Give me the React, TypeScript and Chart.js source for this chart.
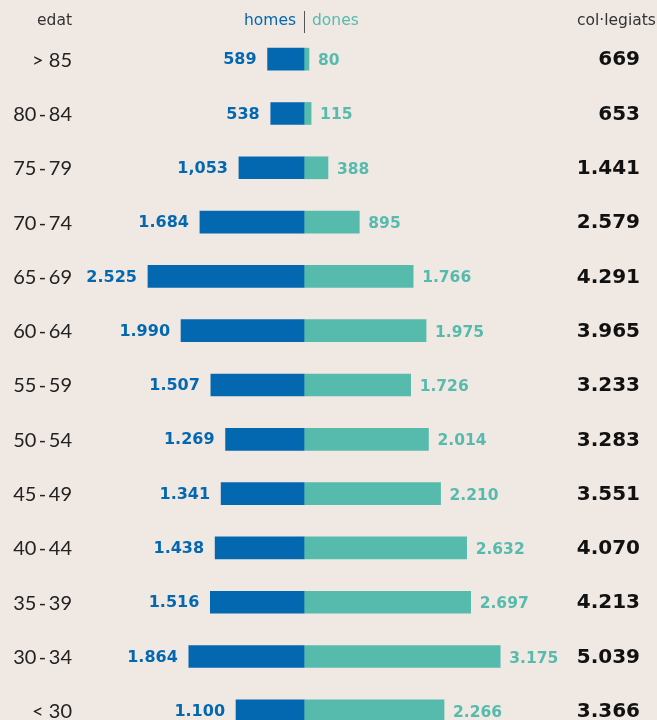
import React, { useEffect, useRef } from "react";
import { Chart, registerables } from "chart.js";

Chart.register(...registerables);

const ages = ["> 85", "80-84", "75-79", "70-74", "65-69", "60-64", "55-59", "50-54", "45-49", "40-44", "35-39", "30-34", "< 30"];
const homes = [589, 538, 1053, 1684, 2525, 1990, 1507, 1269, 1341, 1438, 1516, 1864, 1100];
const dones = [80, 115, 388, 895, 1766, 1975, 1726, 2014, 2210, 2632, 2697, 3175, 2266];
const totals = [669, 653, 1441, 2579, 4291, 3965, 3233, 3283, 3551, 4070, 4213, 5039, 3366];
const homesLabels = ["589", "538", "1,053", "1.684", "2.525", "1.990", "1.507", "1.269", "1.341", "1.438", "1.516", "1.864", "1.100"];
const donesLabels = ["80", "115", "388", "895", "1.766", "1.975", "1.726", "2.014", "2.210", "2.632", "2.697", "3.175", "2.266"];
const totalLabels = ["669", "653", "1.441", "2.579", "4.291", "3.965", "3.233", "3.283", "3.551", "4.070", "4.213", "5.039", "3.366"];

const BLUE = "#0468b1";
const TEAL = "#56bbad";
const BG = "#f0e8e3";
const DARK = "#222222";

export default function App() {
  const ref = useRef<HTMLCanvasElement | null>(null);

  useEffect(() => {
    document.body.style.margin = "0";
    document.body.style.background = BG;
    document.documentElement.style.overflow = "hidden";
    const canvas = ref.current;
    if (!canvas) return;

    const labelPlugin = {
      id: "labels",
      afterDatasetsDraw(chart: any) {
        const ctx = chart.ctx;
        const xs = chart.scales.x;
        const ys = chart.scales.y;
        ctx.save();
        ctx.textBaseline = "middle";
        // headers
        ctx.font = '15.5px "DejaVu Sans"';
        ctx.fillStyle = "#333";
        ctx.textAlign = "right";
        ctx.fillText("edat", 72, 21);
        const cx = Math.round(xs.getPixelForValue(0));
        ctx.fillStyle = BLUE;
        ctx.fillText("homes", cx - 8, 21);
        ctx.fillStyle = TEAL;
        ctx.textAlign = "left";
        ctx.fillText("dones", cx + 8, 21);
        ctx.fillStyle = "#333";
        ctx.fillText("col\u00b7legiats", 577, 21);
        ctx.strokeStyle = "#555";
        ctx.lineWidth = 1;
        ctx.beginPath();
        ctx.moveTo(cx + 0.5, 11);
        ctx.lineTo(cx + 0.5, 33);
        ctx.stroke();

        for (let i = 0; i < ages.length; i++) {
          const y = ys.getPixelForValue(i);
          ctx.font = '20px "Lato"';
          ctx.fillStyle = DARK;
          ctx.textAlign = "right";
          ctx.fillText(ages[i].replace("-", "\u2009-\u2009"), 72, y + 1);

          const lx = xs.getPixelForValue(-homes[i]);
          ctx.font = 'bold 16px "DejaVu Sans"';
          ctx.fillStyle = BLUE;
          ctx.textAlign = "right";
          ctx.fillText(homesLabels[i], lx - 11, y + 1);

          const rx = xs.getPixelForValue(dones[i]);
          ctx.font = 'bold 15.5px "DejaVu Sans"';
          ctx.fillStyle = TEAL;
          ctx.textAlign = "left";
          ctx.fillText(donesLabels[i], rx + 9, y + 2);

          ctx.font = 'bold 20px "DejaVu Sans"';
          ctx.fillStyle = "#111";
          ctx.textAlign = "right";
          ctx.fillText(totalLabels[i], 640, y + 1);
        }
        ctx.restore();
      },
    };

    const chart = new Chart(canvas, {
      type: "bar",
      data: {
        labels: ages,
        datasets: [
          {
            label: "homes",
            data: homes.map((v) => -v),
            backgroundColor: BLUE,
            barThickness: 22,
            borderWidth: 0,
          },
          {
            label: "dones",
            data: dones,
            backgroundColor: TEAL,
            barThickness: 22,
            borderWidth: 0,
          },
        ],
      },
      options: {
        indexAxis: "y",
        responsive: false,
        animation: false,
        events: [],
        layout: { padding: { top: 32, bottom: 2, left: 0, right: 0 } },
        plugins: { legend: { display: false }, tooltip: { enabled: false } },
        scales: {
          x: { stacked: true, display: false, min: -4919, max: 5712 },
          y: { stacked: true, display: false },
        },
      },
      plugins: [labelPlugin],
    } as any);

    return () => chart.destroy();
  }, []);

  return (
    <div style={{ width: 657, height: 720, overflow: "hidden", background: BG }}>
      <canvas ref={ref} width={657} height={740} style={{ display: "block" }} />
    </div>
  );
}
